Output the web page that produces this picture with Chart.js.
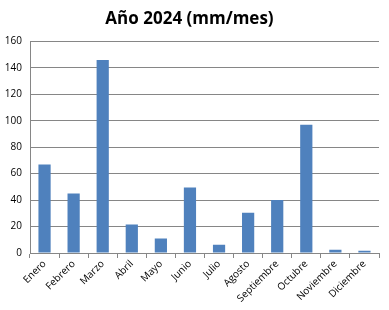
<!DOCTYPE html>
<html>
<head>
<meta charset="utf-8">
<script src="https://cdn.jsdelivr.net/npm/chart.js@4.4.0/dist/chart.umd.min.js"></script>
<style>
  html, body { margin: 0; padding: 0; background: #fff; }
  #wrap { width: 389px; height: 310px; position: relative; }
</style>
</head>
<body>
<div id="wrap"><canvas id="lluvia"></canvas></div>
<script>
// ── Datos ──
const MESES = ['Enero','Febrero','Marzo','Abril','Mayo','Junio','Julio','Agosto','Septiembre','Octubre','Noviembre','Diciembre'];
const PRECIPITACION = [67, 45, 146, 21.5, 11, 49.5, 6.3, 30.5, 40, 97, 2.5, 1.7];
const TITULO = 'Año 2024 (mm/mes)';

const FUENTE = "'Open Sans', 'Liberation Sans', sans-serif";
const GRIS = '#868686';

new Chart(document.getElementById('lluvia'), {
    type: 'bar',
    data: {
        labels: MESES,
        datasets: [{
            data: PRECIPITACION,
            backgroundColor: '#4f81bd',
            borderWidth: 0,
            barPercentage: 0.42,
            categoryPercentage: 1,
        }]
    },
    options: {
        responsive: true,
        maintainAspectRatio: false,
        animation: false,
        layout: { padding: { left: 0, right: 10, top: 9, bottom: 0 } },
        plugins: {
            legend: { display: false },
            tooltip: { enabled: false },
            title: {
                display: true,
                text: TITULO,
                color: '#000',
                font: { family: FUENTE, size: 17, weight: 'bold' },
                padding: { top: 0, bottom: 12 }
            }
        },
        scales: {
            x: {
                grid: { offset: true, drawOnChartArea: false, color: GRIS, tickLength: 5 },
                border: { color: GRIS },
                ticks: {
                    color: '#000',
                    font: { family: FUENTE, size: 10 },
                    maxRotation: 45,
                    minRotation: 45,
                    padding: 0
                },
                afterFit: s => { s.height = 57; }
            },
            y: {
                min: 0,
                max: 160,
                grid: { color: GRIS, tickLength: 0 },
                border: { display: true, color: GRIS },
                ticks: {
                    stepSize: 20,
                    color: '#000',
                    font: { family: FUENTE, size: 10 },
                    padding: 8
                },
                afterFit: s => { s.width = 30; }
            }
        }
    }
});
</script>
</body>
</html>
